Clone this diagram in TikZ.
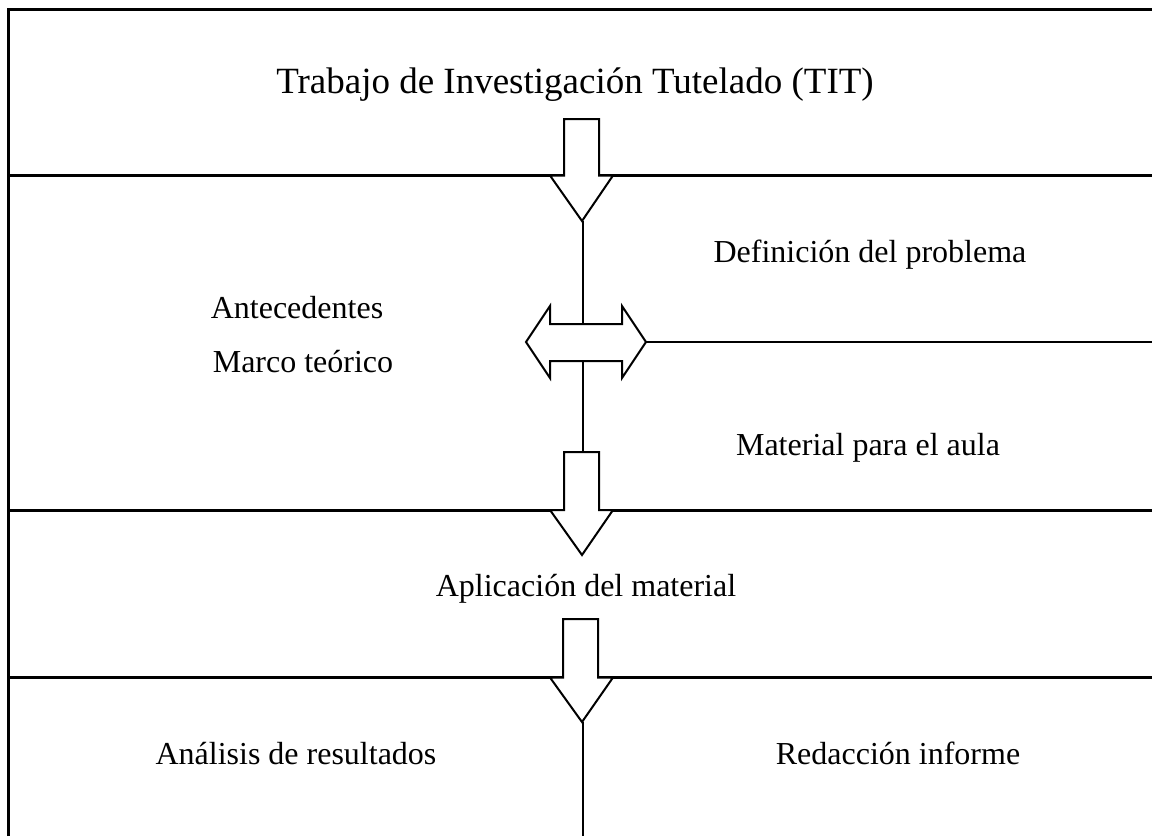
\documentclass[tikz,border=0pt]{standalone}
\usepackage{fontspec}
\setmainfont{Liberation Serif}
\begin{document}
\begin{tikzpicture}[x=1pt,y=-1pt,
  frame/.style={line width=3pt},
  conn/.style={line width=2.2pt},
  blockarrow/.style={line width=2pt, fill=white, line join=miter},
  lbl/.style={font=\fontsize{32}{38}\selectfont, inner sep=0pt, anchor=base}]
\useasboundingbox (0,0) rectangle (1152,836);
% frame and separators
\draw[frame] (8,836) -- (8,9.5) -- (1152,9.5);
\draw[frame] (8,175.5) -- (1152,175.5);
\draw[frame] (8,510) -- (1152,510);
\draw[frame] (8,677.5) -- (1152,677.5);
% coordinates
\coordinate (t1) at (582,221);
\coordinate (dtop) at (583,324);
\coordinate (dbot) at (583,361);
\coordinate (a2top) at (583,452);
\coordinate (dright) at (646,342);
\coordinate (rend) at (1152,342);
\coordinate (t3) at (583,722);
\coordinate (bend) at (583,836);
% connectors
\draw[conn] (583,221) -- (dtop);
\draw[conn] (dbot) -- (a2top);
\draw[conn] (dright) -- (rend);
\draw[conn] (t3) -- (bend);
% block arrows
\draw[blockarrow] (564,119) -- (599,119) -- (599,175.5) -- (613,175.5) -- (582,221) -- (550,175.5) -- (564,175.5) -- cycle;
\draw[blockarrow] (526,342) -- (550,306) -- (550,324) -- (622,324) -- (622,306) -- (646,342) -- (622,378) -- (622,361) -- (550,361) -- (550,378) -- cycle;
\draw[conn] (583,306) -- (dtop);
\draw[blockarrow] (564,452) -- (599,452) -- (599,510) -- (613,510) -- (582,555) -- (550,510) -- (564,510) -- cycle;
\draw[blockarrow] (563,619) -- (598,619) -- (598,677.5) -- (613,677.5) -- (582,722) -- (550,677.5) -- (563,677.5) -- cycle;
% labels
\node[lbl, font=\fontsize{37}{44}\selectfont] (tit) at (575,93) {Trabajo de Investigación Tutelado (TIT)};
\node[lbl] (def) at (870,262) {Definición del problema};
\node[lbl] (ant) at (297,318) {Antecedentes};
\node[lbl] (mar) at (303,372) {Marco teórico};
\node[lbl] (mat) at (868,455) {Material para el aula};
\node[lbl] (apl) at (586,596) {Aplicación del material};
\node[lbl] (ana) at (296,764) {Análisis de resultados};
\node[lbl] (red) at (898,764) {Redacción informe};
\end{tikzpicture}
\end{document}
